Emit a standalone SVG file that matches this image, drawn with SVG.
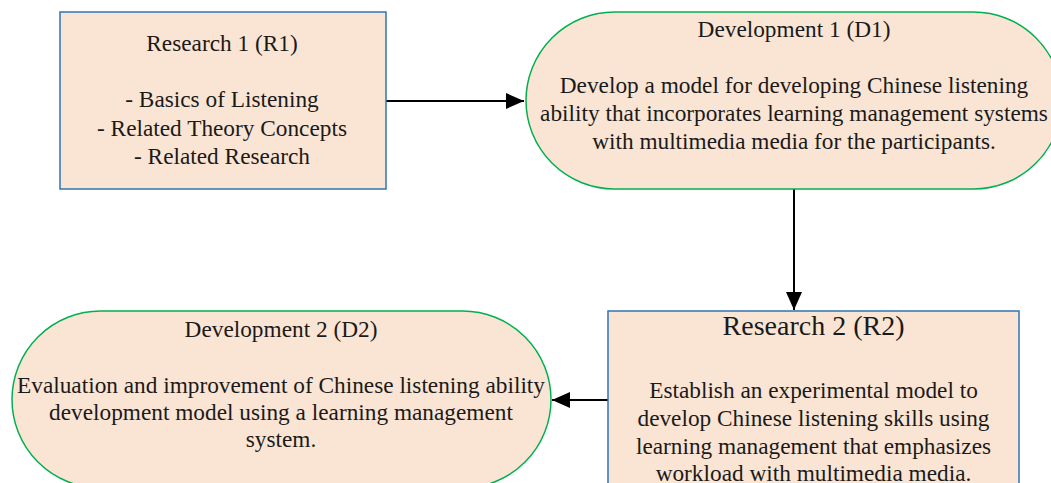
<svg xmlns="http://www.w3.org/2000/svg" width="1051" height="483" viewBox="0 0 1051 483">
<defs>
<style>
.box{fill:#FAE5D4;stroke:#2E75B6;stroke-width:1.5}
.pill{fill:#FAE5D4;stroke:#00B050;stroke-width:1.5}
.t{font-family:'Liberation Serif','Times New Roman',Tinos,'DejaVu Serif',serif;font-size:23.3px;fill:#1a1a1a;text-anchor:middle}
.big{font-size:28px}
.conn{stroke:#000;stroke-width:2;fill:none}
</style>
<marker id="arr" viewBox="0 0 18 16" refX="18" refY="8" markerWidth="18" markerHeight="16" markerUnits="userSpaceOnUse" orient="auto">
<path d="M0,0 L18,8 L0,16 z" fill="#000"/>
</marker>
</defs>
<rect width="1051" height="483" fill="#fff"/>
<g id="connectors">
<line class="conn" x1="386" y1="101" x2="524" y2="101" marker-end="url(#arr)"/>
<line class="conn" x1="794" y1="189" x2="794" y2="310" marker-end="url(#arr)"/>
<line class="conn" x1="608" y1="400" x2="552" y2="400" marker-end="url(#arr)"/>
</g>
<g id="R1" class="t">
<rect class="box" x="60" y="12" width="326" height="177"/>
<text x="222" y="51">Research 1 (R1)</text>
<text x="222" y="107">- Basics of Listening</text>
<text x="222" y="136">- Related Theory Concepts</text>
<text x="222" y="164">- Related Research</text>
</g>
<g id="D1" class="t">
<rect class="pill" x="526" y="12" width="536" height="177" rx="88.5"/>
<text x="794" y="37">Development 1 (D1)</text>
<text x="794" y="93">Develop a model for developing Chinese listening</text>
<text x="794" y="121">ability that incorporates learning management systems</text>
<text x="794" y="149">with multimedia media for the participants.</text>
</g>
<g id="R2" class="t">
<rect class="box" x="608" y="311" width="411" height="200"/>
<text class="big" x="813.5" y="335">Research 2 (R2)</text>
<text x="813.5" y="398">Establish an experimental model to</text>
<text x="813.5" y="426">develop Chinese listening skills using</text>
<text x="813.5" y="454">learning management that emphasizes</text>
<text x="813.5" y="481">workload with multimedia media.</text>
</g>
<g id="D2" class="t">
<rect class="pill" x="12" y="311" width="539" height="177" rx="88.5"/>
<text x="281" y="337">Development 2 (D2)</text>
<text x="281" y="393">Evaluation and improvement of Chinese listening ability</text>
<text x="281" y="420">development model using a learning management</text>
<text x="281" y="447">system.</text>
</g>
</svg>
